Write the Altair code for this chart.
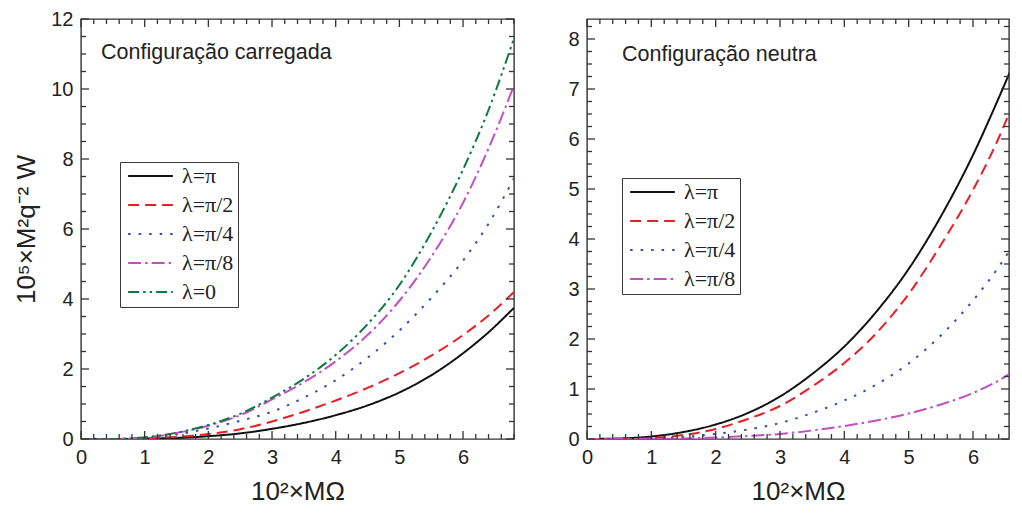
import altair as alt
import numpy as np
import pandas as pd

# ---------------- data ----------------
x_vals = [0, 0.5, 1, 1.5, 2, 2.5, 3, 3.5, 4, 4.5, 5, 5.5, 6, 6.4, 6.8]

serie_names = ["λ=π", "λ=π/2", "λ=π/4", "λ=π/8", "λ=0"]
serie_colors = ["#111111", "#ee1c25", "#2f4fb5", "#c24fc2", "#0b7a3e"]
serie_dashes = [[1, 0], [11, 6], [2.5, 8], [13, 4, 2.5, 4], [11, 4, 2.5, 4, 2.5, 4]]

# Configuração carregada (left panel)
c_pi = [0, 0, 0.01, 0.03, 0.08, 0.16, 0.29, 0.46, 0.68, 0.96, 1.33, 1.82, 2.45, 3.05, 3.75]
c_pi2 = [0, 0, 0.02, 0.06, 0.14, 0.28, 0.50, 0.78, 1.10, 1.46, 1.88, 2.38, 2.97, 3.53, 4.20]
c_pi4 = [0, 0, 0.03, 0.13, 0.30, 0.52, 0.78, 1.18, 1.68, 2.32, 3.10, 4.03, 5.10, 6.15, 7.45]
c_pi8 = [0, 0, 0.04, 0.17, 0.38, 0.68, 1.13, 1.62, 2.22, 2.97, 3.95, 5.20, 6.75, 8.30, 10.10]
c_0 = [0, 0, 0.05, 0.18, 0.40, 0.72, 1.18, 1.72, 2.40, 3.28, 4.40, 5.90, 7.70, 9.40, 11.45]

# Configuração neutra (right panel)
n_pi = [0, 0.01, 0.05, 0.14, 0.29, 0.52, 0.85, 1.30, 1.85, 2.55, 3.40, 4.45, 5.68, 6.82, 8.03]
n_pi2 = [0, 0, 0.02, 0.08, 0.20, 0.40, 0.66, 1.05, 1.52, 2.12, 2.90, 3.88, 4.98, 6.02, 7.30]
n_pi4 = [0, 0, 0.01, 0.04, 0.10, 0.19, 0.32, 0.52, 0.77, 1.09, 1.51, 2.07, 2.77, 3.44, 4.26]
n_pi8 = [0, 0, 0, 0.01, 0.03, 0.06, 0.10, 0.17, 0.26, 0.37, 0.51, 0.69, 0.92, 1.17, 1.50]

x_labels = [0, 1, 2, 3, 4, 5, 6]
left_y_labels = [0, 2, 4, 6, 8, 10, 12]
right_y_labels = [0, 1, 2, 3, 4, 5, 6, 7, 8]

x_title = "10²×MΩ"
y_title = "10⁵×M²q⁻² W"
left_note = "Configuração carregada"
right_note = "Configuração neutra"


def long_df(series_values, names):
    rows = []
    for name, ys in zip(names, series_values):
        for x, y in zip(x_vals, ys):
            rows.append({"x": x, "y": y, "serie": name})
    return pd.DataFrame(rows)


def split_ticks(vmax, step, major_step):
    vals = np.round(np.arange(0, vmax + 1e-9, step), 4)
    major = [float(v) for v in vals if abs(v / major_step - round(v / major_step)) < 1e-6]
    minor = [float(v) for v in vals if abs(v / major_step - round(v / major_step)) >= 1e-6]
    return major, minor


def panel(df, names, xmax, ymax, y_labels, y_step, y_major_step, width, height,
          note, note_x, note_y, legend_x, legend_y, ytitle):
    k = len(names)
    xs = alt.Scale(domain=[0, xmax], nice=False, zero=False)
    ys = alt.Scale(domain=[0, ymax], nice=False, zero=False)
    legend = alt.Legend(
        orient="none", legendX=legend_x, legendY=legend_y, title=None,
        strokeColor="#3a3a3a", fillColor="white", padding=4,
        symbolType="stroke", symbolSize=2000, symbolStrokeWidth=2, clipHeight=20,
        symbolOffset=3, rowPadding=7, labelOffset=8, labelFont="Liberation Serif", labelFontSize=22,
        labelColor="#222222", labelLimit=0, cornerRadius=0,
    )
    x_axis = alt.Axis(values=x_labels, format="d", title=x_title, labelPadding=8,
                      titleBaseline="alphabetic", titleY=60)
    y_kw = dict(values=y_labels, format="d", labelPadding=8, titlePadding=11)
    y_axis = alt.Axis(title=ytitle, **y_kw) if ytitle else alt.Axis(title=None, **y_kw)

    lines = alt.Chart(df).mark_line(strokeWidth=2, clip=True, interpolate="monotone").encode(
        x=alt.X("x:Q", scale=xs, axis=x_axis),
        y=alt.Y("y:Q", scale=ys, axis=y_axis),
        color=alt.Color("serie:N", scale=alt.Scale(domain=names, range=serie_colors[:k]), legend=legend),
        strokeDash=alt.StrokeDash("serie:N", scale=alt.Scale(domain=names, range=serie_dashes[:k]), legend=legend),
    )

    def rule_layer(vals, side, length):
        d = pd.DataFrame({"v": vals})
        m = alt.Chart(d).mark_rule(color="#333333", strokeWidth=1.3)
        if side == "bottom":
            return m.encode(x=alt.X("v:Q", scale=xs, axis=x_axis), y=alt.value(height), y2=alt.value(height - length))
        if side == "top":
            return m.encode(x=alt.X("v:Q", scale=xs, axis=x_axis), y=alt.value(0), y2=alt.value(length))
        if side == "left":
            return m.encode(y=alt.Y("v:Q", scale=ys, axis=y_axis), x=alt.value(0), x2=alt.value(length))
        return m.encode(y=alt.Y("v:Q", scale=ys, axis=y_axis), x=alt.value(width), x2=alt.value(width - length))

    xmaj, xmin = split_ticks(xmax, 0.2, 1)
    ymaj, ymin = split_ticks(ymax, y_step, y_major_step)
    ticks = []
    for side in ["bottom", "top"]:
        ticks.append(rule_layer(xmaj, side, 8))
        ticks.append(rule_layer(xmin, side, 5))
    for side in ["left", "right"]:
        ticks.append(rule_layer(ymaj, side, 8))
        ticks.append(rule_layer(ymin, side, 5))

    text = alt.Chart(pd.DataFrame({"t": [note]})).mark_text(
        align="left", baseline="alphabetic", font="Liberation Sans", fontSize=21.5, color="#222222"
    ).encode(x=alt.value(note_x), y=alt.value(note_y), text="t:N")

    return alt.layer(lines, text, *ticks).properties(width=width, height=height)


left_df = long_df([c_pi, c_pi2, c_pi4, c_pi8, c_0], serie_names)
right_df = long_df([n_pi, n_pi2, n_pi4, n_pi8], serie_names[:4])

left = panel(left_df, serie_names, 6.8, 12, left_y_labels, 0.5, 2, 433, 420,
             left_note, 20, 40, 39, 143, y_title)
right = panel(right_df, serie_names[:4], 6.56, 8.4, right_y_labels, 0.25, 1, 422, 420,
              right_note, 35, 42, 35, 159, None)

chart = alt.hconcat(left, right, spacing=51).resolve_scale(
    x="independent", y="independent", color="independent", strokeDash="independent"
).resolve_legend(color="independent", strokeDash="independent").properties(
    padding={"left": 5, "top": 0, "right": 0, "bottom": 0},
).configure_view(
    stroke="#333333", strokeWidth=1.4
).configure_axis(
    domain=False, ticks=False, grid=False,
    labelFont="Liberation Sans", labelFontSize=20, labelColor="#222222",
    titleFont="Liberation Sans", titleFontSize=26, titleFontWeight="normal", titleColor="#222222",
    labelFlush=False, labelOverlap=False,
)

chart.save("out.html", embed_options={"renderer": "svg", "actions": False})
